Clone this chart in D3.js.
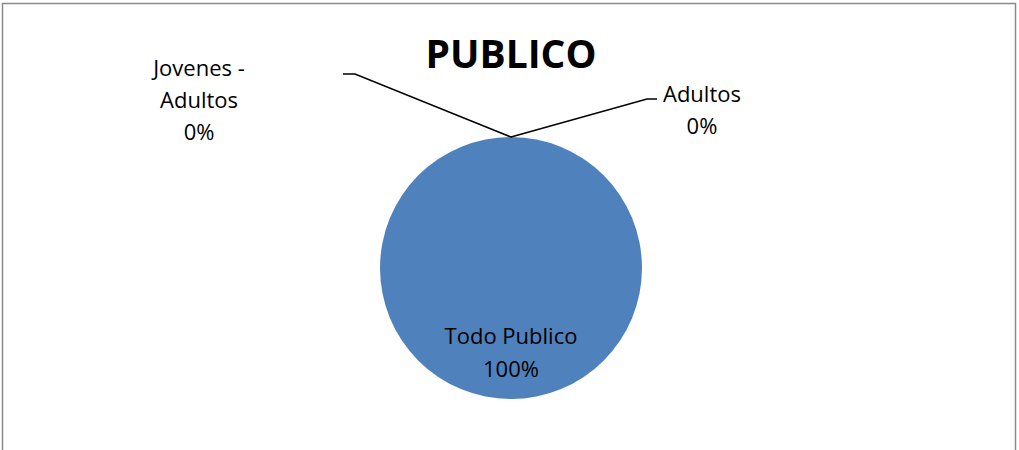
<!DOCTYPE html>
<html lang="es">
<head>
  <meta charset="UTF-8">
  <title>PUBLICO</title>
  <script src="https://cdn.jsdelivr.net/npm/d3@7/dist/d3.min.js"></script>
  <style>
    body{ margin:0; padding:0; background:#fff; }
    svg{ display:block; font-family:"Open Sans", sans-serif; }
    .title{ font-weight:bold; font-size:39px; fill:#000; }
    .lbl{ font-size:22px; fill:#000; }
    .leader{ fill:none; stroke:#000; stroke-width:1.5; }
  </style>
</head>
<body>
<div id="chart"></div>
<script>
  // data
  const categories = ["Todo Publico", "Jovenes - Adultos", "Adultos"];
  const values = [100, 0, 0];
  // label text lines (Excel wraps the long name)
  const labelLines = [["Todo Publico"], ["Jovenes -", "Adultos"], ["Adultos"]];

  let width = 1019, height = 450;
  let cx = 511, cy = 268, radius = 131;

  let svg = d3.select("#chart").append("svg")
      .attr("width", width).attr("height", height);

  // chart area border
  svg.append("rect")
      .attr("x", 2.5).attr("y", 3.5)
      .attr("width", 1013).attr("height", 470)
      .attr("fill", "#fff")
      .attr("stroke", "#8a8a8a").attr("stroke-width", 1.5);

  svg.append("text").attr("class", "title")
      .attr("x", 511).attr("y", 68)
      .attr("text-anchor", "middle")
      .text("PUBLICO");

  let total = d3.sum(values);
  let data = categories.map(function(c, i){
    return { name: c, value: values[i], pct: Math.round(values[i] / total * 100) + "%", lines: labelLines[i] };
  });

  let pie = d3.pie().sort(null).value(function(d){ return d.value; });
  let arcs = pie(data);

  let arc = d3.arc().innerRadius(0).outerRadius(radius);
  let edge = d3.arc().innerRadius(radius).outerRadius(radius);

  let g = svg.append("g").attr("transform", "translate(" + cx + "," + cy + ")");

  g.selectAll("path.slice").data(arcs).enter()
    .append("path").attr("class", "slice")
      .attr("d", arc)
      .attr("fill", "#4f81bd");

  // where each label sits, relative to the pie centre: [text x, first baseline, elbow x, elbow y, end x]
  let layout = [
    null,
    { tx: -312, ty: -192, ex: -156, ey: -194, endx: -168 },
    { tx: 191, ty: -166, ex: 136, ey: -169, endx: 146 }
  ];

  arcs.forEach(function(a, i){
    let lines = a.data.lines.concat([a.data.pct]);
    if (a.data.value > 0) {
      // label inside the slice
      let c = arc.centroid(a);
      let t = g.append("text").attr("class", "lbl").attr("text-anchor", "middle");
      lines.forEach(function(s, k){
        t.append("tspan").attr("x", 0).attr("y", 76 + k * 33).text(s);
      });
      return;
    }
    let L = layout[i];
    let p = edge.centroid(a);
    g.append("polyline").attr("class", "leader")
      .attr("points", [p, [L.ex, L.ey], [L.endx, L.ey]].map(function(q){ return q.join(","); }).join(" "));
    let t = g.append("text").attr("class", "lbl").attr("text-anchor", "middle");
    lines.forEach(function(s, k){
      t.append("tspan").attr("x", L.tx).attr("y", L.ty + k * 32).text(s);
    });
  });
</script>
</body>
</html>
